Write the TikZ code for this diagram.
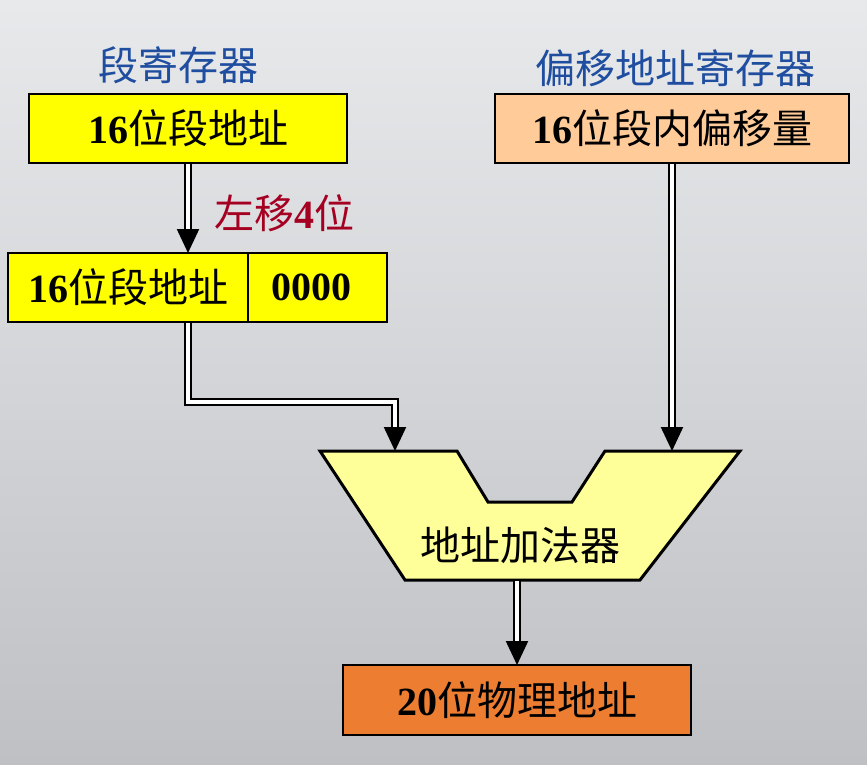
\documentclass[tikz,border=0pt]{standalone}
\usepackage{fontspec}
\setmainfont{Liberation Serif}
\newfontfamily\cjk{Noto Sans CJK SC}
\usetikzlibrary{arrows.meta,positioning,calc}
\definecolor{regyellow}{RGB}{255,255,0}
\definecolor{regpeach}{RGB}{255,204,153}
\definecolor{addyellow}{RGB}{255,255,153}
\definecolor{physorange}{RGB}{237,125,49}
\definecolor{lblblue}{RGB}{31,78,160}
\definecolor{lblred}{RGB}{165,0,33}
\definecolor{bgtop}{RGB}{232,233,235}
\definecolor{bgbot}{RGB}{190,192,196}
\newcommand{\bnum}[1]{{\rmfamily\bfseries #1}}

\begin{document}
\begin{tikzpicture}[
  x=1pt, y=-1pt,
  >={Triangle[length=24pt,width=22pt]},
  every node/.style={font=\fontsize{40}{48}\selectfont, inner sep=0pt},
  reg/.style={draw, line width=2.2pt, outer sep=0pt, minimum height=69pt},
  lbl/.style={font=\cjk\fontsize{40}{48}\selectfont},
  bus/.style={draw, line width=2.2pt, double=white, double distance=3.2pt, shorten <=1.1pt}
]
\shade[top color=bgtop, bottom color=bgbot] (0,0) rectangle (867,765);
\useasboundingbox (0,0) rectangle (867,765);

% registers
\node[lbl, text=lblblue] (segl) at (178,65) {段寄存器};
\node[lbl, text=lblblue] (offl) at (675,68) {偏移地址寄存器};
\node[reg, fill=regyellow, minimum width=318pt] (seg) at (188,128.5) {\bnum{16}\cjk 位段地址};
\node[reg, fill=regpeach, minimum width=354pt] (off) at (672,128.5) {\bnum{16}\cjk 位段内偏移量};

% shifted segment
\node[reg, fill=regyellow, minimum width=240pt] (shl) at (128,287.5) {\bnum{16}\cjk 位段地址};
\node[reg, fill=regyellow, minimum width=139pt, right=0pt of shl] (shr) {\hspace*{-12pt}\bnum{0000}};
\node[lbl, text=lblred] (shift) at (284,213) {左移\bnum{4}位};

% adder
\draw[line width=3pt, fill=addyellow, line join=miter]
  (320,451) -- (457,451) -- (488,502) -- (572,502) -- (605,451)
  -- (740,451) -- (640,580) -- (405,580) -- cycle;
\node[lbl] (add) at (520,545) {地址加法器};
\coordinate (addl) at (395,451);
\coordinate (addr) at (673,451);
\coordinate (addo) at (517,580);
\coordinate (elbow) at (395,402);

\node[reg, fill=physorange, minimum width=348pt, minimum height=70pt] (phy) at (517,700) {\bnum{20}\cjk 位物理地址};

\draw[bus,->] (seg.south) -- (seg.south |- shl.north);
\draw[bus,->] (seg.south |- shl.south) |- (elbow) -- (addl);
\draw[bus,->] (off.south) -- (off.south |- addr);
\draw[bus,->] (addo) -- (phy.north);
\end{tikzpicture}
\end{document}
